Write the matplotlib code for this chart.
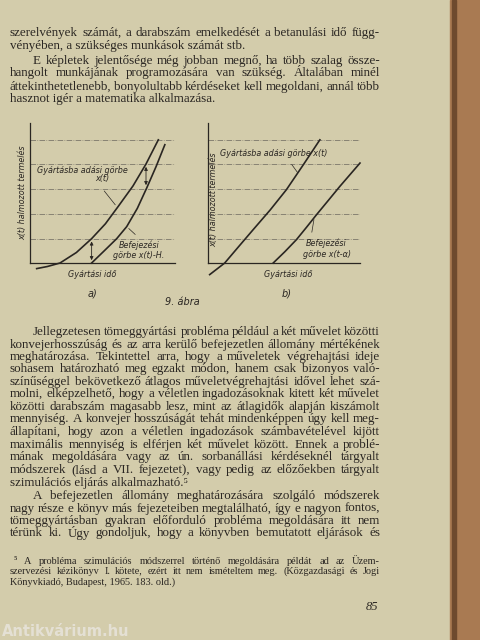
import matplotlib
matplotlib.use("Agg")
import matplotlib.pyplot as plt
from matplotlib.patches import Rectangle

W, H = 480, 640
fig = plt.figure(figsize=(4.8, 6.4), dpi=100)
fig.patch.set_facecolor("#d3ccab")
fig.patches.append(Rectangle((450/W, 0), 30/W, 1, transform=fig.transFigure, color="#a97a52", zorder=0))
fig.patches.append(Rectangle((452/W, 0), 4/W, 1, transform=fig.transFigure, color="#6e4a2e", zorder=0))

INK = "#2a2622"
SERIF = ["Liberation Serif", "DejaVu Serif"]
FS = 9.4
LX0, LX1 = 10, 380

# (text, y_pixel, indent, justify)
top_lines = [
    ("szerelvények számát, a darabszám emelkedését a betanulási idő függ-", 33, 0, True),
    ("vényében, a szükséges munkások számát stb.", 46, 0, False),
    ("E képletek jelentősége még jobban megnő, ha több szalag össze-", 61, 23, True),
    ("hangolt munkájának programozására van szükség. Általában minél", 73, 0, True),
    ("áttekinthetetlenebb, bonyolultabb kérdéseket kell megoldani, annál több", 87, 0, True),
    ("hasznot igér a matematika alkalmazása.", 99, 0, False),
]
bottom_lines = [
    ("Jellegzetesen tömeggyártási probléma például a két művelet közötti", 332, 23, True),
    ("konvejerhosszúság és az arra kerülő befejezetlen állomány mértékének", 345, 0, True),
    ("meghatározása. Tekintettel arra, hogy a műveletek végrehajtási ideje", 357, 0, True),
    ("sohasem határozható meg egzakt módon, hanem csak bizonyos való-", 369, 0, True),
    ("színűséggel bekövetkező átlagos műveletvégrehajtási idővel lehet szá-", 382, 0, True),
    ("molni, elképzelhető, hogy a véletlen ingadozásoknak kitett két művelet", 394, 0, True),
    ("közötti darabszám magasabb lesz, mint az átlagidők alapján kiszámolt", 407, 0, True),
    ("mennyiség. A konvejer hosszúságát tehát mindenképpen úgy kell meg-", 419, 0, True),
    ("állapítani, hogy azon a véletlen ingadozások számbavételével kijött", 432, 0, True),
    ("maximális mennyiség is elférjen két művelet között. Ennek a problé-", 445, 0, True),
    ("mának megoldására vagy az ún. sorbanállási kérdéseknél tárgyalt", 457, 0, True),
    ("módszerek (lásd a VII. fejezetet), vagy pedig az előzőekben tárgyalt", 470, 0, True),
    ("szimulációs eljárás alkalmazható.⁵", 483, 0, False),
    ("A befejezetlen állomány meghatározására szolgáló módszerek", 496, 23, True),
    ("nagy része e könyv más fejezeteiben megtalálható, így e nagyon fontos,", 509, 0, True),
    ("tömeggyártásban gyakran előforduló probléma megoldására itt nem", 521, 0, True),
    ("térünk ki. Úgy gondoljuk, hogy a könyvben bemutatott eljárások és", 533, 0, True),
]
foot_lines = [
    ("⁵ A probléma szimulációs módszerrel történő megoldására példát ad az Üzem-", 561, 4, True),
    ("szervezési kézikönyv I. kötete, ezért itt nem ismételtem meg. (Közgazdasági és Jogi", 571, 0, True),
    ("Könyvkiadó, Budapest, 1965. 183. old.)", 582, 0, False),
]

fig.canvas.draw()
renderer = fig.canvas.get_renderer()

def put_line(text, ypix, indent, justify, fs):
    y = 1 - ypix / H
    x0 = LX0 + indent
    if not justify:
        fig.text(x0 / W, y, text, fontsize=fs, family=SERIF, color=INK, va="center")
        return
    words = text.split(" ")
    arts = [fig.text(0, y, w, fontsize=fs, family=SERIF, color=INK, va="center") for w in words]
    widths = [a.get_window_extent(renderer).width for a in arts]
    gap = (LX1 - x0 - sum(widths)) / max(len(words) - 1, 1)
    x = x0
    for a, w in zip(arts, widths):
        a.set_x(x / W)
        x += w + gap

for t, yp, ind, j in top_lines + bottom_lines:
    put_line(t, yp, ind, j, FS)
for t, yp, ind, j in foot_lines:
    put_line(t, yp, ind, j, 7.4)

fig.text(378 / W, 1 - 607 / H, "85", fontsize=9, family=SERIF, style="italic", color=INK, ha="right", va="center")
fig.text(2 / W, 1 - 631 / H, "Antikvárium.hu", fontsize=10.5, weight="bold", family=["DejaVu Sans"], color="#e8e4dc", alpha=0.85, va="center")

# ---------------- chart data (axis units) ----------------
levels = [0.174, 0.352, 0.529, 0.707, 0.88]
a_x_t = [0.046, 0.12, 0.207, 0.32, 0.425, 0.52, 0.609, 0.71, 0.80, 0.885]
a_y_t = [-0.04, -0.025, 0.0, 0.075, 0.174, 0.28, 0.405, 0.55, 0.707, 0.88]
a_x_s = [0.425, 0.51, 0.598, 0.667, 0.74, 0.805, 0.87, 0.93]
a_y_s = [0.0, 0.085, 0.174, 0.26, 0.39, 0.536, 0.69, 0.845]
b_x_t = [0.011, 0.11, 0.20, 0.297, 0.41, 0.516, 0.626, 0.736]
b_y_t = [-0.083, 0.0, 0.115, 0.238, 0.38, 0.524, 0.70, 0.88]
b_x_s = [0.429, 0.505, 0.582, 0.648, 0.714, 0.79, 0.868, 1.0]
b_y_s = [0.0, 0.08, 0.167, 0.255, 0.345, 0.445, 0.548, 0.714]

LAB = dict(fontsize=5.8, style="italic", family=["DejaVu Sans"], color=INK)

def make_ax(l, r, t, b):
    ax = fig.add_axes([l / W, 1 - b / H, (r - l) / W, (b - t) / H])
    ax.set_xlim(0, 1); ax.set_ylim(0, 1)
    ax.patch.set_alpha(0)
    for s in ("top", "right"):
        ax.spines[s].set_visible(False)
    for s in ("left", "bottom"):
        ax.spines[s].set_color(INK); ax.spines[s].set_linewidth(0.9)
    ax.set_xticks([]); ax.set_yticks([])
    for lv in levels:
        ax.axhline(lv, color="#6a655c", lw=0.5, ls=(0, (8, 2, 1, 2)))
    return ax

axa = make_ax(30, 175, 123, 263)
axa.plot(a_x_t, a_y_t, color=INK, lw=1.2, clip_on=False)
axa.plot(a_x_s, a_y_s, color=INK, lw=1.2, clip_on=False)
axa.annotate("", xy=(0.425, 0.0), xytext=(0.425, 0.174), arrowprops=dict(arrowstyle="<|-|>", color=INK, lw=0.6, mutation_scale=5))
axa.annotate("", xy=(0.80, 0.536), xytext=(0.80, 0.707), arrowprops=dict(arrowstyle="<|-|>", color=INK, lw=0.6, mutation_scale=5))
axa.text(0.36, 0.66, "Gyártásba adási görbe", ha="center", va="center", **LAB)
axa.text(0.5, 0.60, "x(t)", ha="center", va="center", **LAB)
axa.annotate("", xy=(0.60, 0.40), xytext=(0.5, 0.53), arrowprops=dict(arrowstyle="-", color=INK, lw=0.5))
axa.text(0.75, 0.13, "Befejezési", ha="center", va="center", **LAB)
axa.text(0.75, 0.05, "görbe x(t)-H.", ha="center", va="center", **LAB)
axa.annotate("", xy=(0.667, 0.26), xytext=(0.74, 0.19), arrowprops=dict(arrowstyle="-", color=INK, lw=0.5))
axa.text(0.43, -0.085, "Gyártási idő", ha="center", va="center", **LAB)
axa.text(-0.05, 0.5, "x(t) halmozott termelés", rotation=90, ha="center", va="center", **LAB)

axb = make_ax(208, 360, 123, 263)
axb.plot(b_x_t, b_y_t, color=INK, lw=1.2, clip_on=False)
axb.plot(b_x_s, b_y_s, color=INK, lw=1.2, clip_on=False)
axb.text(0.08, 0.78, "Gyártásba adási görbe x(t)", ha="left", va="center", **LAB)
axb.annotate("", xy=(0.60, 0.63), xytext=(0.54, 0.72), arrowprops=dict(arrowstyle="-", color=INK, lw=0.5))
axb.text(0.78, 0.14, "Befejezési", ha="center", va="center", **LAB)
axb.text(0.78, 0.06, "görbe x(t-α)", ha="center", va="center", **LAB)
axb.annotate("", xy=(0.70, 0.33), xytext=(0.68, 0.2), arrowprops=dict(arrowstyle="-", color=INK, lw=0.5))
axb.text(0.53, -0.085, "Gyártási idő", ha="center", va="center", **LAB)
axb.text(0.035, 0.45, "x(t) halmozott termelés", rotation=90, ha="center", va="center", **LAB)

fig.text(92 / W, 1 - 293 / H, "a)", fontsize=7, style="italic", family=["DejaVu Sans"], color=INK, ha="center", va="center")
fig.text(182 / W, 1 - 302 / H, "9. ábra", fontsize=7, style="italic", family=["DejaVu Sans"], color=INK, ha="center", va="center")
fig.text(287 / W, 1 - 293 / H, "b)", fontsize=7, style="italic", family=["DejaVu Sans"], color=INK, ha="center", va="center")

fig.savefig("out.png", dpi=100, facecolor=fig.get_facecolor())
